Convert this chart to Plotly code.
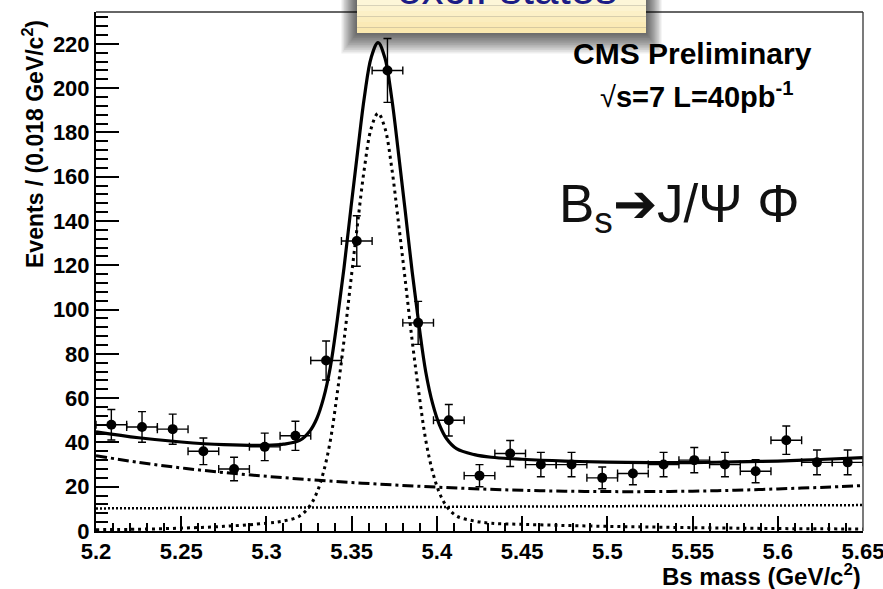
import plotly.graph_objects as go

# ---------------- data ----------------
bin_centers = [5.209, 5.227, 5.245, 5.263, 5.281, 5.299, 5.317, 5.335, 5.353, 5.371,
               5.389, 5.407, 5.425, 5.443, 5.461, 5.479, 5.497, 5.515, 5.533, 5.551,
               5.569, 5.587, 5.605, 5.623, 5.641]
events = [48, 47, 46, 36, 28, 38, 43, 77, 131, 208,
          94, 50, 25, 35, 30, 30, 24, 26, 30, 32,
          30, 27, 41, 31, 31]
event_errors = [6.9, 6.9, 6.8, 6.0, 5.3, 6.2, 6.6, 8.8, 11.4, 14.4,
                9.7, 7.1, 5.0, 5.9, 5.5, 5.5, 4.9, 5.1, 5.5, 5.7,
                5.5, 5.2, 6.4, 5.6, 5.6]
bin_half_width = 0.009

fit_x = [5.200, 5.225, 5.250, 5.275, 5.300, 5.310, 5.3195, 5.3255, 5.3295, 5.3335,
         5.3375, 5.3415, 5.3455, 5.3495, 5.3535, 5.3575, 5.3615, 5.3655, 5.3695, 5.3735,
         5.3775, 5.3815, 5.3855, 5.3895, 5.3935, 5.3975, 5.4015, 5.4055, 5.4115, 5.422,
         5.432, 5.450, 5.475, 5.500, 5.525, 5.550, 5.575, 5.600, 5.625, 5.650]
fit_total = [44.8, 42.1, 40.2, 39.0, 38.7, 39.2, 40.9, 45.2, 50.7, 60.0,
             74.1, 95.0, 118.8, 145.4, 171.4, 196.2, 214.0, 220.6, 213.7, 195.5,
             170.4, 144.0, 117.1, 92.9, 71.7, 57.5, 47.9, 41.9, 37.2, 34.5,
             33.3, 32.4, 31.6, 31.1, 30.9, 30.9, 31.2, 31.6, 32.3, 33.1]
fit_signal = [0.6, 0.8, 1.3, 2.1, 3.5, 4.5, 6.8, 11.4, 17.2, 26.7,
              40.9, 62.0, 86.0, 112.8, 139.0, 164.0, 182.0, 188.7, 182.0, 164.0,
              139.0, 112.8, 86.0, 62.0, 40.9, 26.7, 17.2, 11.4, 6.8, 4.5,
              3.5, 3.0, 2.5, 2.1, 1.8, 1.5, 1.3, 1.1, 1.0, 0.9]

bkg_x = [5.200, 5.225, 5.250, 5.275, 5.300, 5.325, 5.350, 5.375, 5.400, 5.425,
         5.450, 5.475, 5.500, 5.525, 5.550, 5.575, 5.600, 5.625, 5.650]
bkg_y = [34.0, 31.0, 28.5, 26.4, 24.7, 23.2, 21.9, 20.8, 19.8, 19.0,
         18.4, 18.0, 17.8, 17.8, 18.0, 18.4, 19.0, 19.7, 20.5]

flat_x = [5.200, 5.650]
flat_y = [10.2, 11.7]

x_tickvals = [5.2, 5.25, 5.3, 5.35, 5.4, 5.45, 5.5, 5.55, 5.6, 5.65]
x_ticktext = ["5.2", "5.25", "5.3", "5.35", "5.4", "5.45", "5.5", "5.55", "5.6", "5.65"]
x_range = [5.2, 5.65]
y_range = [0, 234.4]

# ---------------- helpers (pixel -> paper) ----------------
L, R, T, B = 96, 863, 12, 531
def px(xp):
    return (xp - L) / (R - L)
def py(yp):
    return (B - yp) / (B - T)

BOLD = dict(family="Liberation Sans, Arial, sans-serif", color="black", weight="bold")

fig = go.Figure()

fig.add_trace(go.Scatter(x=flat_x, y=flat_y, mode="lines",
                         line=dict(color="black", width=2.5, dash="2px,2px"),
                         showlegend=False, hoverinfo="skip"))
fig.add_trace(go.Scatter(x=bkg_x, y=bkg_y, mode="lines",
                         line=dict(color="black", width=3, dash="11px,4px,3px,4px", shape="spline"),
                         showlegend=False, hoverinfo="skip"))
fig.add_trace(go.Scatter(x=fit_x, y=fit_signal, mode="lines",
                         line=dict(color="black", width=3, dash="3px,4px", shape="spline"),
                         showlegend=False, hoverinfo="skip"))
fig.add_trace(go.Scatter(x=fit_x, y=fit_total, mode="lines",
                         line=dict(color="black", width=3.2, shape="spline"),
                         showlegend=False, hoverinfo="skip"))
fig.add_trace(go.Scatter(x=bin_centers, y=events, mode="markers",
                         marker=dict(color="black", size=10),
                         error_y=dict(type="data", array=event_errors, color="black",
                                      thickness=1.4, width=4),
                         error_x=dict(type="constant", value=bin_half_width, color="black",
                                      thickness=1.4, width=4),
                         showlegend=False))

shapes = []
# top/right frame lines
shapes.append(dict(type="line", xref="paper", yref="paper", x0=0, x1=1, y0=1, y1=1,
                   line=dict(color="#333333", width=1.3)))
shapes.append(dict(type="line", xref="paper", yref="paper", x0=1, x1=1, y0=0, y1=1,
                   line=dict(color="#333333", width=1.3)))
# shadow of callout box
n_sh = 12
for i in range(n_sh):
    shapes.append(dict(type="rect", xref="paper", yref="paper", layer="above",
                       x0=px(357 - 1.3 * (n_sh - i)), x1=px(646 + 1.3 * (n_sh - i)),
                       y0=py(33 + 1.7 * (n_sh - i)), y1=py(0),
                       fillcolor="rgba(0,0,0,0.065)", line=dict(width=0)))
# callout box with colour bands
band_colors = ["#fdf6d8", "#fcf3d0", "#fcf0c7", "#fbedbe", "#fbeab6", "#fae8af"]
nb = len(band_colors)
for i, c in enumerate(band_colors):
    shapes.append(dict(type="rect", xref="paper", yref="paper", layer="above",
                       x0=px(357), x1=px(646),
                       y0=py(33 * (i + 1) / nb), y1=py(33 * i / nb - (1 if i == 0 else 0)),
                       fillcolor=c, line=dict(width=0)))

annotations = [
    dict(text="excl. states", x=px(507), y=py(-12), xref="paper", yref="paper",
         showarrow=False, xanchor="center", yanchor="middle",
         font=dict(family="Liberation Sans, Arial, sans-serif", size=44, color="#1c1c86")),
    dict(text="Events / (0.018 GeV/c<sup>2</sup>)", x=px(33), y=py(144), xref="paper", yref="paper",
         showarrow=False, textangle=-90, xanchor="center", yanchor="middle",
         font=dict(size=23, **BOLD)),
    dict(text="Bs mass (GeV/c<sup>2</sup>)", x=px(863), y=py(575), xref="paper", yref="paper",
         showarrow=False, xanchor="right", yanchor="middle",
         font=dict(size=24, **BOLD)),
    dict(text="CMS Preliminary", x=px(692), y=py(53), xref="paper", yref="paper",
         showarrow=False, xanchor="center", yanchor="middle",
         font=dict(size=30, **BOLD)),
    dict(text="<span style='font-weight:normal'>√</span>s=7 L=40pb<sup>-1</sup>", x=px(697), y=py(95),
         xref="paper", yref="paper", showarrow=False, xanchor="center", yanchor="middle",
         font=dict(size=29, **BOLD)),
    dict(text="B<sub>s</sub>➔J/Ψ Φ", x=px(557), y=py(207), xref="paper", yref="paper",
         showarrow=False, xanchor="left", yanchor="middle",
         font=dict(family="Liberation Sans, Arial, sans-serif", size=53, color="#111111")),
]

fig.update_layout(
    width=883, height=589,
    margin=dict(l=L, r=883 - R, t=T, b=589 - B, autoexpand=False),
    paper_bgcolor="white", plot_bgcolor="white",
    showlegend=False,
    shapes=shapes, annotations=annotations,
    xaxis=dict(range=x_range, tickmode="array", tickvals=x_tickvals, ticktext=x_ticktext,
               ticks="inside", ticklen=15, automargin=False, ticklabeloverflow="allow",
               tickwidth=1.5, tickcolor="black", showgrid=False, zeroline=False,
               showline=True, linewidth=2, linecolor="black",
               tickfont=dict(size=22, **BOLD),
               minor=dict(dtick=0.01, tick0=5.2, ticks="inside", ticklen=8, tickwidth=1.5,
                          tickcolor="black", showgrid=False)),
    yaxis=dict(range=y_range, tick0=0, dtick=20, ticks="inside", ticklen=23, automargin=False,
               ticklabeloverflow="allow",
               tickwidth=1.5, tickcolor="black", showgrid=False, zeroline=False,
               showline=True, linewidth=2, linecolor="black",
               tickfont=dict(size=22, **BOLD),
               minor=dict(dtick=4, ticks="inside", ticklen=12, tickwidth=1.5,
                          tickcolor="black", showgrid=False)),
)

fig.write_html("out.html")
